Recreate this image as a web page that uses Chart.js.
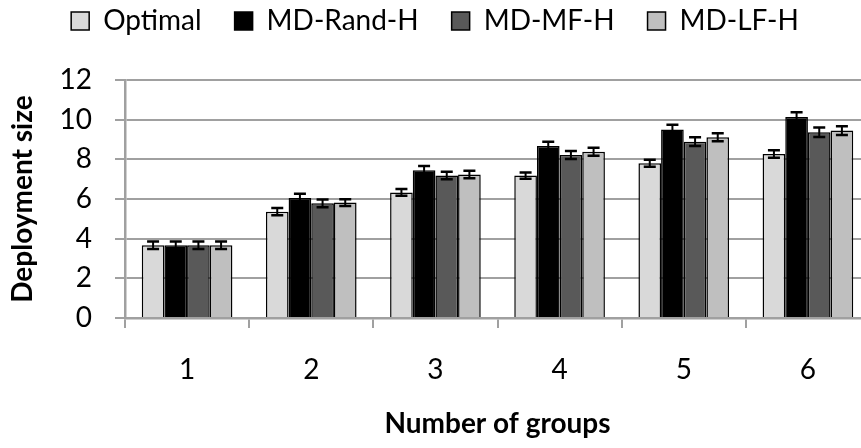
<!DOCTYPE html>
<html>
<head>
<meta charset="utf-8">
<script src="https://cdn.jsdelivr.net/npm/chart.js@4/dist/chart.umd.min.js"></script>
<style>
  html, body { margin: 0; padding: 0; background: #fff; overflow: hidden; }
  canvas { display: block; }
</style>
</head>
<body>
<canvas id="chart" width="870" height="448"></canvas>
<script>
// Mean deployment size per number of groups, with error margins
const groups = ['1', '2', '3', '4', '5', '6'];
const seriesNames = ['Optimal', 'MD-Rand-H', 'MD-MF-H', 'MD-LF-H'];

const optimal   = [3.67, 5.36, 6.33, 7.18, 7.80, 8.27];
const mdRandH   = [3.67, 6.05, 7.45, 8.67, 9.50, 10.14];
const mdMfH     = [3.67, 5.78, 7.19, 8.22, 8.89, 9.37];
const mdLfH     = [3.67, 5.82, 7.24, 8.38, 9.11, 9.45];

const optimalErr = [0.19, 0.18, 0.17, 0.16, 0.18, 0.19];
const mdRandHErr = [0.19, 0.22, 0.22, 0.22, 0.24, 0.24];
const mdMfHErr   = [0.19, 0.19, 0.19, 0.20, 0.22, 0.24];
const mdLfHErr   = [0.19, 0.17, 0.19, 0.20, 0.20, 0.22];

const yTicks = [0, 2, 4, 6, 8, 10, 12];

const fills = ['#d9d9d9', '#000000', '#595959', '#bfbfbf'];
const values = [optimal, mdRandH, mdMfH, mdLfH];
const errors = [optimalErr, mdRandHErr, mdMfHErr, mdLfHErr];

const GRID = '#a0a0a0';
const FONT = 'Lato, "Open Sans", sans-serif';

// whiskers drawn from each bar's value +/- its error through the y scale
const errorBars = {
  id: 'errorBars',
  afterDatasetsDraw(chart) {
    const ctx = chart.ctx;
    const y = chart.scales.y;
    ctx.save();
    ctx.strokeStyle = '#000';
    chart.data.datasets.forEach((ds, di) => {
      const meta = chart.getDatasetMeta(di);
      meta.data.forEach((bar, i) => {
        const v = ds.data[i];
        const e = ds.errors[i];
        const top = y.getPixelForValue(v + e);
        const bot = y.getPixelForValue(v - e);
        const half = 6;
        ctx.lineWidth = 2;
        ctx.beginPath();
        ctx.moveTo(bar.x, top);
        ctx.lineTo(bar.x, bot);
        ctx.stroke();
        ctx.lineWidth = 2.5;
        ctx.beginPath();
        ctx.moveTo(bar.x - half, top);
        ctx.lineTo(bar.x + half, top);
        ctx.moveTo(bar.x - half, bot);
        ctx.lineTo(bar.x + half, bot);
        ctx.stroke();
      });
    });
    ctx.restore();
  }
};

// keeps the legend in a fixed band above the plot
const LEGEND_BAND = 80;
const LEGEND_LIFT = 26;
const legendBand = {
  id: 'legendBand',
  afterInit(chart) {
    const legend = chart.legend;
    const fit = legend.fit.bind(legend);
    legend.fit = function () { fit(); this.height = LEGEND_BAND; };
    const draw = legend.draw.bind(legend);
    legend.draw = function () {
      const t = this.top;
      this.top = t - LEGEND_LIFT;
      draw();
      this.top = t;
    };
  }
};

new Chart(document.getElementById('chart'), {
  type: 'bar',
  data: {
    labels: groups,
    datasets: seriesNames.map((name, k) => ({
      label: name,
      data: values[k],
      errors: errors[k],
      backgroundColor: fills[k],
      borderColor: '#000',
      borderWidth: 1.5,
      borderSkipped: 'bottom',
      categoryPercentage: 0.73,
      barPercentage: 1.0
    }))
  },
  options: {
    responsive: false,
    animation: false,
    devicePixelRatio: 1,
    layout: { padding: 0 },
    plugins: {
      tooltip: { enabled: false },
      legend: {
        position: 'top',
        align: 'center',
        labels: {
          color: '#000',
          font: { family: FONT, size: 28 },
          boxWidth: 18,
          boxHeight: 18,
          padding: 33
        }
      }
    },
    scales: {
      x: {
        grid: {
          offset: true,
          drawOnChartArea: false,
          drawTicks: true,
          tickLength: 10,
          color: GRID,
          lineWidth: 2
        },
        border: { display: true, color: GRID, width: 2.5 },
        ticks: {
          color: '#000',
          font: { family: FONT, size: 28 },
          padding: 25
        },
        title: {
          display: true,
          text: 'Number of groups',
          color: '#000',
          font: { family: FONT, size: 28, weight: 'bold' },
          padding: { top: 0, bottom: 7 }
        },
        afterFit(scale) { scale.height = 130; }
      },
      y: {
        min: 0,
        max: 12,
        afterBuildTicks(scale) { scale.ticks = yTicks.map(v => ({ value: v })); },
        grid: {
          color: GRID,
          lineWidth: 2,
          tickLength: 10,
          drawTicks: true
        },
        border: { display: true, color: GRID, width: 2.5 },
        ticks: {
          color: '#000',
          font: { family: FONT, size: 28 },
          padding: 23
        },
        title: {
          display: true,
          text: 'Deployment size',
          color: '#000',
          font: { family: FONT, size: 28, weight: 'bold' },
          padding: { top: 6, bottom: 0 }
        },
        afterFit(scale) { scale.width = 125; }
      }
    }
  },
  plugins: [errorBars, legendBand]
});
</script>
</body>
</html>
